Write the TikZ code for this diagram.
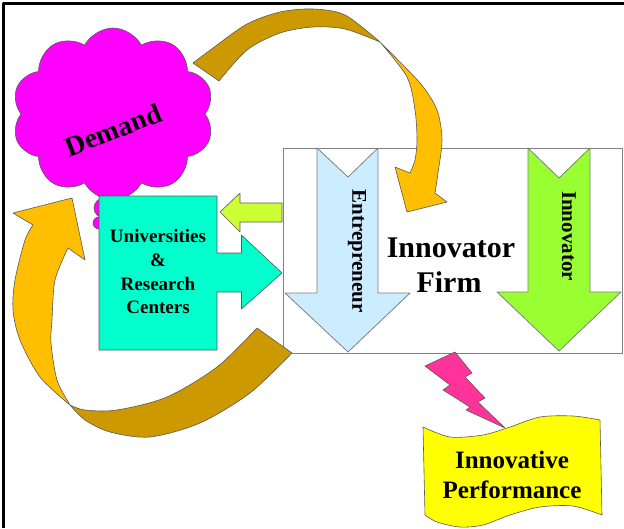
\documentclass[tikz,border=0pt]{standalone}
\usepackage{fontspec}
\setmainfont{Liberation Serif}
\usetikzlibrary{shapes.symbols}
\definecolor{tealc}{RGB}{0,255,204}
\definecolor{lblue}{RGB}{204,236,255}
\definecolor{lgreen}{RGB}{153,255,51}
\definecolor{ygreen}{RGB}{204,255,51}
\definecolor{magc}{RGB}{255,0,255}
\definecolor{pinkc}{RGB}{255,51,153}
\definecolor{yellc}{RGB}{255,255,0}
\definecolor{darkgold}{RGB}{204,153,0}
\definecolor{lightgold}{RGB}{255,190,0}
\tikzset{
  shapeline/.style={draw=black!65, line width=0.6pt},
  boxline/.style={draw=black!50, line width=0.8pt},
  lbl/.style={font=\bfseries\fontsize{#1}{#1}\selectfont, inner sep=0pt, text=black},
}
\begin{document}
\begin{tikzpicture}[x=1pt,y=-1pt,line join=round]
\useasboundingbox (0,0) rectangle (624,528);
\fill[white] (0,0) rectangle (624,528);
\draw[line width=3pt] (3.5,528) -- (3.5,3.5) -- (624,3.5);

% Demand cloud
\filldraw[fill=magc, shapeline] (104,208) circle (10pt);
\filldraw[fill=magc, shapeline] (99,223) circle (6pt);
\node[cloud, cloud puffs=10, cloud puff arc=125, aspect=1.2, fill=magc, shapeline,
      minimum width=202pt, minimum height=172pt, inner sep=0pt] (cloud) at (113,114) {};
\node[lbl=28, rotate=21] (demand) at (113,130) {Demand};

% Innovator firm box
\filldraw[fill=white, boxline] (283,148) rectangle (622,353);

% Entrepreneur arrow
\filldraw[fill=lblue, boxline] (317,148) -- (348,177) -- (378,148) -- (378,293) -- (410,293)
  -- (348,352) -- (285,293) -- (317,293) -- cycle;
\node[lbl=21, rotate=-90] (entre) at (357,251) {Entrepreneur};

% Innovator arrow
\filldraw[fill=lgreen, boxline] (528,148) -- (559,178) -- (590,148) -- (590,292) -- (621,292)
  -- (559,351) -- (497,292) -- (528,292) -- cycle;
\node[lbl=21, rotate=-90] (innov) at (569,236) {Innovator};

\node[lbl=30] (t1) at (451,248) {Innovator};
\node[lbl=30] (t2) at (449,282) {Firm};

% Universities callout
\filldraw[fill=tealc, shapeline] (99,196) -- (217,196) -- (217,253) -- (241.5,253) -- (241.5,235)
  -- (282,273) -- (241.5,309) -- (241.5,292) -- (217,292) -- (217,350) -- (99,350) -- cycle;
\node[lbl=19] (univ) at (158,236) {Universities};
\node[lbl=19] (amp) at (158,260) {\&};
\node[lbl=19] (res) at (158,284) {Research};
\node[lbl=19] (cent) at (158,307) {Centers};

% small left arrow
\filldraw[fill=ygreen, shapeline] (282,203) -- (240,203) -- (240,193) -- (220,212) -- (240,232)
  -- (240,222) -- (282,222) -- cycle;

% top ribbon arrow
\filldraw[fill=darkgold, shapeline] (193,63)
  -- plot[smooth] coordinates {(193,63) (213,48) (247,24) (280,12) (313,9) (345,15) (380,42)}
  -- plot[smooth] coordinates {(380,42) (345,29) (313,27) (280,33) (247,50) (219,81)}
  -- cycle;
\filldraw[fill=lightgold, shapeline] (380,42)
  -- plot[smooth] coordinates {(380,42) (420,83) (437,110) (442,140) (438,173) (435,193)}
  -- (447,202) -- (407,212) -- (395,167) -- (410,173)
  -- plot[smooth] coordinates {(410,173) (415,160) (417,140) (415,110) (407,77) (380,42)}
  -- cycle;

% bottom ribbon arrow
\filldraw[fill=darkgold, shapeline] (292,353)
  -- plot[smooth] coordinates {(292,353) (250,393) (200,423) (150,437) (110,432) (85,420) (70,405)}
  -- plot[smooth] coordinates {(70,405) (85,410) (117,410) (167,397) (217,367) (257,328)}
  -- cycle;
\filldraw[fill=lightgold, shapeline] (70,405)
  -- plot[smooth] coordinates {(70,405) (40,377) (20,340) (13,310) (15,280) (25,240) (33,225)}
  -- (13,213) -- (72,198) -- (85,260) -- (68,248)
  -- plot[smooth] coordinates {(68,248) (55,280) (52,320) (51,343) (57,380) (70,405)}
  -- cycle;

% lightning
\filldraw[fill=pinkc, shapeline] (425,366) -- (455,352) -- (472,373) -- (465,377) -- (485,398)
  -- (478,402) -- (505,428) -- (466,410) -- (470,407) -- (443,390) -- (450,385) -- cycle;

% banner
\filldraw[fill=yellc, shapeline] (423,427)
  -- plot[smooth] coordinates {(423,427) (450,437) (483,435) (510,427) (540,417) (573,416) (600,420)}
  -- (602,515)
  -- plot[smooth] coordinates {(602,515) (573,506) (540,507) (510,515) (483,525) (460,527) (437,522) (425,515)}
  -- cycle;
\node[lbl=25] (perf1) at (512,460) {Innovative};
\node[lbl=25] (perf2) at (512,490) {Performance};
\end{tikzpicture}
\end{document}
